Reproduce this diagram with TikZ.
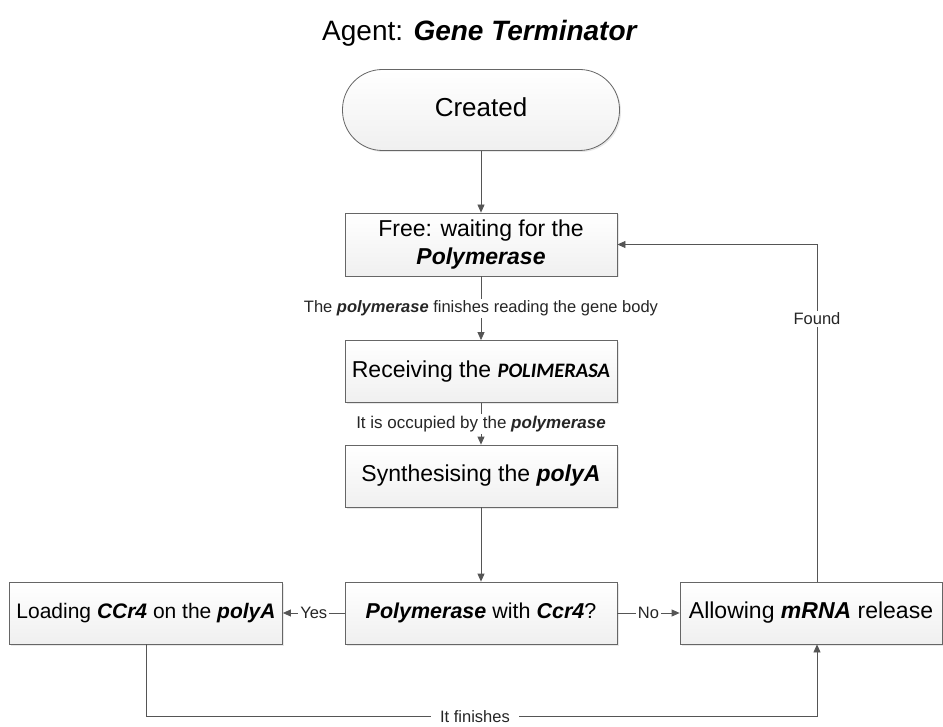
\documentclass[tikz,border=0pt]{standalone}
\usepackage{fontspec}
\setmainfont{Liberation Sans}
\newfontfamily\calib{Carlito}
\usetikzlibrary{arrows.meta,shadows}
\definecolor{ln}{HTML}{555555}
\definecolor{bd}{HTML}{666666}
\newcommand{\bi}[1]{\textbf{\textit{#1}}}
\begin{document}
\begin{tikzpicture}[x=1pt,y=-1pt,
  box/.style={draw=bd, line width=0.8pt, top color=white, bottom color=gray!12,
    drop shadow={opacity=0.18,shadow xshift=1.5pt,shadow yshift=-1.5pt},
    minimum width=272pt, minimum height=62pt, inner sep=2pt,
    font=\fontsize{23}{28}\selectfont, align=center},
  single/.style={text height=16.5pt, text depth=4.8pt},
  arr/.style={draw=ln, line width=0.8pt, -{Triangle[length=8pt,width=7pt]}},
  lab/.style={fill=white, inner sep=2pt, font=\fontsize{16.5}{19}\selectfont, text=black!85}]
\useasboundingbox (0,0) rectangle (943,727);

\node (title) at (480,33) {\fontsize{28}{33}\selectfont Agent: \bi{Gene Terminator}};

\node[box, rounded corners=40pt, minimum width=277pt, minimum height=81pt,
      font=\fontsize{26}{30}\selectfont, single, text height=18.5pt] (created) at (481,110) {Created};

\node[box, minimum height=63pt] (free) at (481,244.5) {Free: waiting for the\\\bi{Polymerase}};
\node[box, single] (recv) at (481,371.5) {Receiving the {\calib\bfseries\itshape\fontsize{20.5}{24}\selectfont POLIMERASA}};
\node[box, single] (synth) at (481,476) {Synthesising the \bi{polyA}};
\node[box, single, font=\fontsize{21.5}{26}\selectfont] (poly) at (481,613) {\bi{Polymerase} with \bi{Ccr4}?};
\node[box, single, minimum width=273pt, font=\fontsize{21}{25}\selectfont] (load) at (146,613) {Loading \bi{CCr4} on the \bi{polyA}};
\node[box, single, minimum width=262pt] (allow) at (811,613) {Allowing \bi{mRNA} release};

\coordinate (bot) at (475,716.5);

\draw[arr] (created) -- (free);
\draw[arr] (free) -- node[lab] {The \bi{polymerase} finishes reading the gene body} (recv);
\draw[arr] (recv) -- node[lab, font=\fontsize{17}{20}\selectfont] {It is occupied by the \bi{polymerase}} (synth);
\draw[arr] (synth) -- (poly);
\draw[arr] (poly) -- node[lab] {Yes} (load);
\draw[arr] (poly) -- node[lab] {No} (allow);
\draw[arr] (load.south) |- (bot) node[lab, inner xsep=9pt, inner ysep=0pt, text depth=0pt] {It finishes} -| ([xshift=6pt]allow.south);
\draw[arr] ([xshift=6pt]allow.north) |- node[lab, pos=0.39] {Found} (free.east);
\end{tikzpicture}
\end{document}
